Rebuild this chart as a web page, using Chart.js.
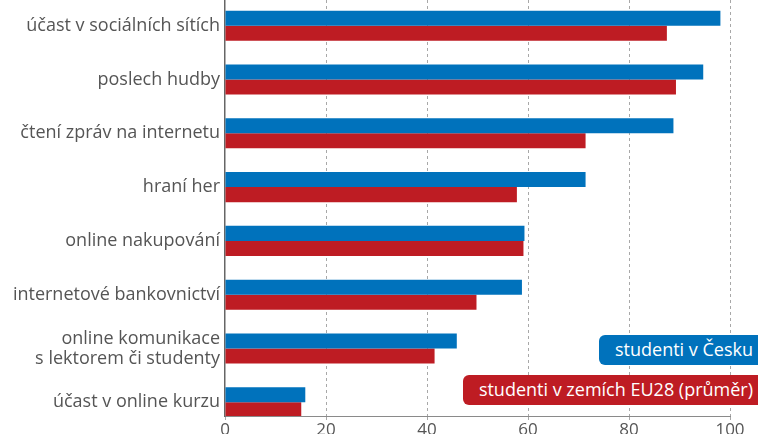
<!DOCTYPE html>
<html>
<head>
<meta charset="utf-8">
<script src="https://cdn.jsdelivr.net/npm/chart.js@4"></script>
<style>
  html, body { margin: 0; padding: 0; background: #fff; overflow: hidden; }
  #wrap { position: relative; width: 758px; height: 434px; overflow: hidden; }
  .lg { position: absolute; right: 0; height: 30px; line-height: 29px; color: #fff;
        font-family: 'Open Sans', sans-serif; font-size: 18px; padding: 0 5px 0 16px;
        border-radius: 6px 0 0 6px; white-space: nowrap; }
</style>
</head>
<body>
<div id="wrap">
  <canvas id="c" width="758" height="434"></canvas>
</div>
<script>
const categories = [
  'účast v sociálních sítích',
  'poslech hudby',
  'čtení zpráv na internetu',
  'hraní her',
  'online nakupování',
  'internetové bankovnictví',
  ['online komunikace', 's lektorem či studenty'],
  'účast v online kurzu'
];
const seriesNames = ['studenti v Česku', 'studenti v zemích EU28 (průměr)'];
const czValues = [98.1, 94.7, 88.8, 71.4, 59.3, 58.8, 45.9, 15.9];
const euValues = [87.5, 89.3, 71.4, 57.8, 59.1, 49.8, 41.5, 15.1];
const xTicks = [0, 20, 40, 60, 80, 100];

const BLUE = '#0072bc';
const RED = '#be1c23';
const FONT = "'Open Sans', sans-serif";

const toPoints = arr => arr.map((v, i) => ({ x: v, y: i }));

const chart = new Chart(document.getElementById('c'), {
  type: 'bar',
  data: {
    datasets: [
      { label: seriesNames[0], data: toPoints(czValues), backgroundColor: BLUE,
        categoryPercentage: 0.56, barPercentage: 1.0 },
      { label: seriesNames[1], data: toPoints(euValues), backgroundColor: RED,
        categoryPercentage: 0.56, barPercentage: 1.0 }
    ]
  },
  options: {
    indexAxis: 'y',
    responsive: false,
    animation: false,
    layout: { padding: { left: 0, right: 28, top: 0, bottom: 0 } },
    plugins: { legend: { display: false }, tooltip: { enabled: false } },
    scales: {
      x: {
        type: 'linear',
        min: 0, max: 100,
        afterBuildTicks: axis => { axis.ticks = xTicks.map(v => ({ value: v })); },
        afterFit: s => { s.height = 18; s.paddingLeft = 0; s.paddingRight = 0; },
        grid: {
          color: ctx => (ctx.tick && ctx.tick.value === 0) ? 'rgba(0,0,0,0)' : '#a8a8a8',
          lineWidth: 1,
          drawTicks: true,
          tickLength: 4,
          tickColor: '#a8a8a8'
        },
        border: { display: true, color: '#8a8a8a', width: 1, dash: [3, 3] },
        ticks: {
          color: '#555', padding: 0,
          font: { family: FONT, size: 17 },
          maxRotation: 0
        }
      },
      y: {
        type: 'linear',
        reverse: true,
        offset: false,
        min: -0.478,
        max: 7.255,
        afterBuildTicks: axis => { axis.ticks = categories.map((_, i) => ({ value: i })); },
        afterFit: s => { s.width = 225; s.paddingTop = 0; s.paddingBottom = 0; },
        grid: { display: false, drawTicks: false, offset: false },
        border: { display: true, color: '#666', width: 1.5 },
        ticks: {
          color: '#555', padding: 5,
          font: { family: FONT, size: 18, lineHeight: 1.12 },
          callback: v => categories[v] !== undefined ? categories[v] : ''
        }
      }
    }
  }
});

// HTML legend built from the datasets
const wrap = document.getElementById('wrap');
const legendTops = [335, 375];
chart.data.datasets.forEach((ds, i) => {
  const d = document.createElement('div');
  d.className = 'lg';
  d.style.top = legendTops[i] + 'px';
  d.style.background = ds.backgroundColor;
  d.textContent = ds.label;
  wrap.appendChild(d);
});
</script>
</body>
</html>
